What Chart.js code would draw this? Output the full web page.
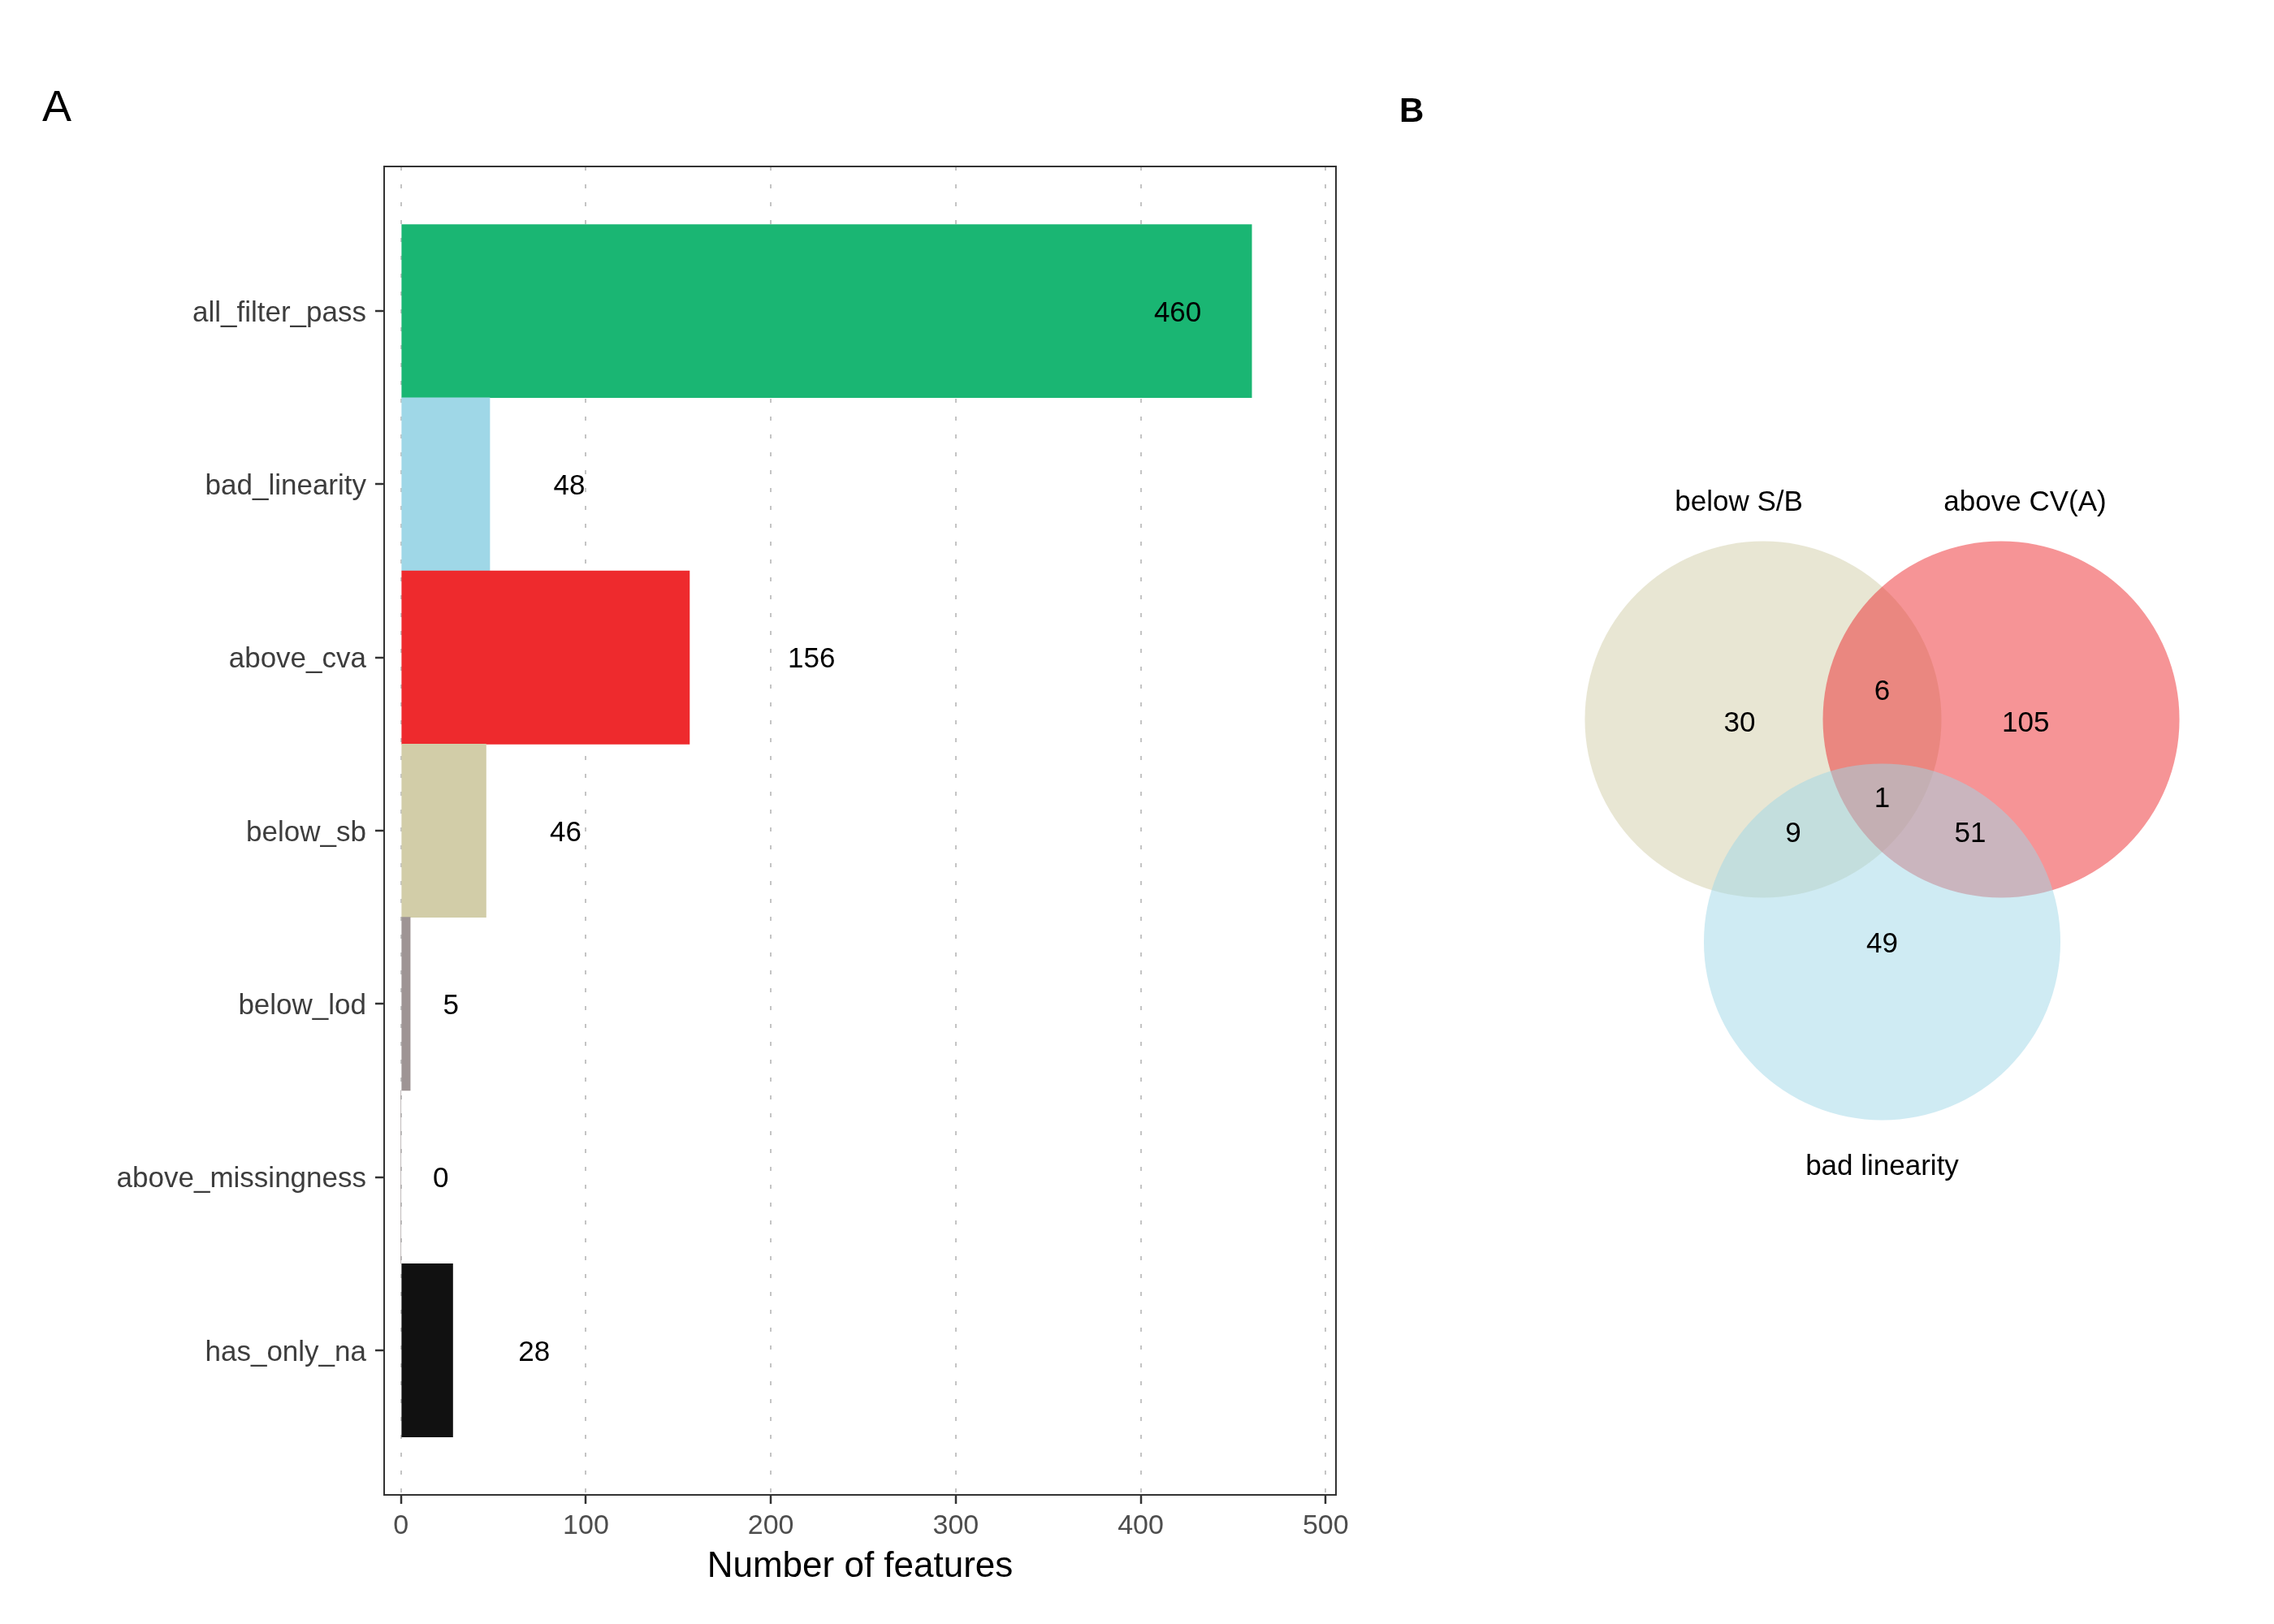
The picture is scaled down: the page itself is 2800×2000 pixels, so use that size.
<!DOCTYPE html>
<html><head><meta charset="utf-8">
<script src="https://cdn.jsdelivr.net/npm/chart.js@4/dist/chart.umd.min.js"></script>
<style>
html,body{margin:0;padding:0;background:#fff;overflow:hidden;}
#wrap{position:relative;width:2800px;height:2000px;background:#fff;}
#cA{position:absolute;left:0;top:0;width:1700px;height:2000px;}
#cB{position:absolute;left:1700px;top:0;width:1100px;height:2000px;}
</style></head><body>
<div id="wrap"><canvas id="cA" width="1700" height="2000"></canvas><canvas id="cB" width="1100" height="2000"></canvas></div>
<script>
// ---------- data: panel A ----------
const categories = ['all_filter_pass','bad_linearity','above_cva','below_sb','below_lod','above_missingness','has_only_na'];
const featureCounts = [460, 48, 156, 46, 5, 0, 28];
const countLabelAt = [420, 91, 222, 89, 27, 21.5, 72];
const xTickValues = [0, 100, 200, 300, 400, 500];
const barColors = ['#1AB673','#9FD7E7','#EE2A2D','#D2CDA8','#9E9494','#9E9494','#111111'];

// ---------- data: panel B (Venn) ----------
const vennSets = ['below S/B', 'above CV(A)', 'bad linearity'];
const vennRegions = ['below S/B only','below S/B & above CV(A)','above CV(A) only','all three','below S/B & bad linearity','above CV(A) & bad linearity','bad linearity only'];
const vennCounts = [30, 6, 105, 1, 9, 51, 49];
const vennColors = ['rgba(210,205,168,0.5)','rgba(238,42,45,0.5)','rgba(160,216,232,0.5)'];

// ---------- layout (Venn geometry in circle-radius units) ----------
const vennLayout = {
  radius: 1,
  centers: [[-0.6675, 0], [0.6675, 0], [0, -1.248]],
  setLabels: [[-0.804, 1.23], [0.802, 1.23], [0, -2.497]],
  regionLabels: [[-0.80, -0.01], [0, 0.169], [0.805, -0.01], [0, -0.433], [-0.499, -0.631], [0.494, -0.631], [0, -1.248]]
};

const FONT = '"Liberation Sans", Arial, Helvetica, sans-serif';
const TEXT_NUDGE = 3; // small vertical optical correction for 'middle' baseline

// ---------- Panel A ----------
const panelAPlugin = {
  id: 'panelA',
  afterDatasetsDraw(chart) {
    const {ctx, chartArea: a, scales: {x, y}} = chart;
    ctx.save();
    ctx.fillStyle = '#000';
    ctx.font = '35px ' + FONT;
    ctx.textAlign = 'center';
    ctx.textBaseline = 'middle';
    featureCounts.forEach((v, i) => {
      ctx.fillText(String(v), x.getPixelForValue(countLabelAt[i]), y.getPixelForValue(i) + TEXT_NUDGE);
    });
    ctx.strokeStyle = '#333333';
    ctx.lineWidth = 2;
    ctx.strokeRect(a.left, a.top, a.right - a.left, a.bottom - a.top);
    ctx.fillStyle = '#000';
    ctx.font = '54px ' + FONT;
    ctx.textAlign = 'left';
    ctx.textBaseline = 'alphabetic';
    ctx.fillText('A', 52, 149);
    ctx.restore();
  }
};

new Chart(document.getElementById('cA'), {
  type: 'bar',
  data: {
    datasets: [{
      data: categories.map((c, i) => ({x: featureCounts[i], y: i})),
      backgroundColor: barColors,
      borderWidth: 0,
      barPercentage: 1,
      categoryPercentage: 1
    }]
  },
  options: {
    indexAxis: 'y',
    responsive: false,
    animation: false,
    devicePixelRatio: 1,
    events: [],
    layout: {padding: {left: 0, top: 205, right: 55, bottom: 0}},
    plugins: {legend: {display: false}, tooltip: {enabled: false}},
    scales: {
      x: {
        type: 'linear', position: 'bottom', min: -9.1, max: 505.6, offset: false,
        afterBuildTicks: s => { s.ticks = xTickValues.map(v => ({value: v})); },
        afterFit: s => { s.height = 159; },
        grid: {display: true, drawOnChartArea: true, drawTicks: true, offset: false, color: '#C4C4C4', lineWidth: 2,
               tickLength: 11, tickColor: '#333333', tickWidth: 2.5},
        border: {display: false, dash: [5, 17]},
        ticks: {color: '#4D4D4D', font: {family: FONT, size: 34}, padding: 7, maxRotation: 0, autoSkip: false,
                callback: v => String(v)},
        title: {display: true, text: 'Number of features', color: '#000',
                font: {family: FONT, size: 44}, padding: {top: 0, bottom: 44}}
      },
      y: {
        type: 'linear', position: 'left', reverse: true, min: -0.835, max: 6.835, offset: false,
        afterBuildTicks: s => { s.ticks = categories.map((c, i) => ({value: i})); },
        afterFit: s => { s.width = 473; },
        grid: {display: true, drawOnChartArea: false, drawTicks: true, offset: false, lineWidth: 0,
               tickLength: 11, tickColor: '#333333', tickWidth: 2.5},
        border: {display: false},
        ticks: {color: '#3D3D3D', font: {family: FONT, size: 35}, padding: 11, autoSkip: false, labelOffset: TEXT_NUDGE,
                callback: v => (categories[v] !== undefined ? categories[v] : '')}
      }
    }
  },
  plugins: [panelAPlugin]
});

// ---------- Panel B ----------
const vennRadiusPx = ctx => {
  const sx = ctx.chart.scales.x;
  return Math.abs(sx.getPixelForValue(vennLayout.radius) - sx.getPixelForValue(0));
};

const panelBPlugin = {
  id: 'panelB',
  afterDatasetsDraw(chart) {
    const {ctx, scales: {x, y}} = chart;
    ctx.save();
    ctx.fillStyle = '#000';
    ctx.font = '35px ' + FONT;
    ctx.textAlign = 'center';
    ctx.textBaseline = 'middle';
    vennSets.forEach((s, i) => {
      const p = vennLayout.setLabels[i];
      ctx.fillText(s, x.getPixelForValue(p[0]), y.getPixelForValue(p[1]) + TEXT_NUDGE);
    });
    vennCounts.forEach((n, i) => {
      const p = vennLayout.regionLabels[i];
      ctx.fillText(String(n), x.getPixelForValue(p[0]), y.getPixelForValue(p[1]) + TEXT_NUDGE);
    });
    ctx.font = 'bold 42px ' + FONT;
    ctx.textAlign = 'left';
    ctx.textBaseline = 'alphabetic';
    ctx.fillText('B', 23, 150);
    ctx.restore();
  }
};

new Chart(document.getElementById('cB'), {
  type: 'scatter',
  data: {
    datasets: [{
      data: vennSets.map((s, i) => ({x: vennLayout.centers[i][0], y: vennLayout.centers[i][1]})),
      pointBackgroundColor: vennColors,
      backgroundColor: vennColors,
      pointBorderWidth: 0,
      borderWidth: 0,
      pointRadius: vennRadiusPx,
      pointHoverRadius: vennRadiusPx,
      showLine: false,
      clip: false
    }]
  },
  options: {
    responsive: false,
    animation: false,
    devicePixelRatio: 1,
    events: [],
    layout: {padding: 0},
    plugins: {legend: {display: false}, tooltip: {enabled: false}},
    scales: {
      x: {type: 'linear', display: false, min: -2.813, max: 2.198},
      y: {type: 'linear', display: false, min: -5.075, max: 4.036}
    }
  },
  plugins: [panelBPlugin]
});
</script>
</body></html>
